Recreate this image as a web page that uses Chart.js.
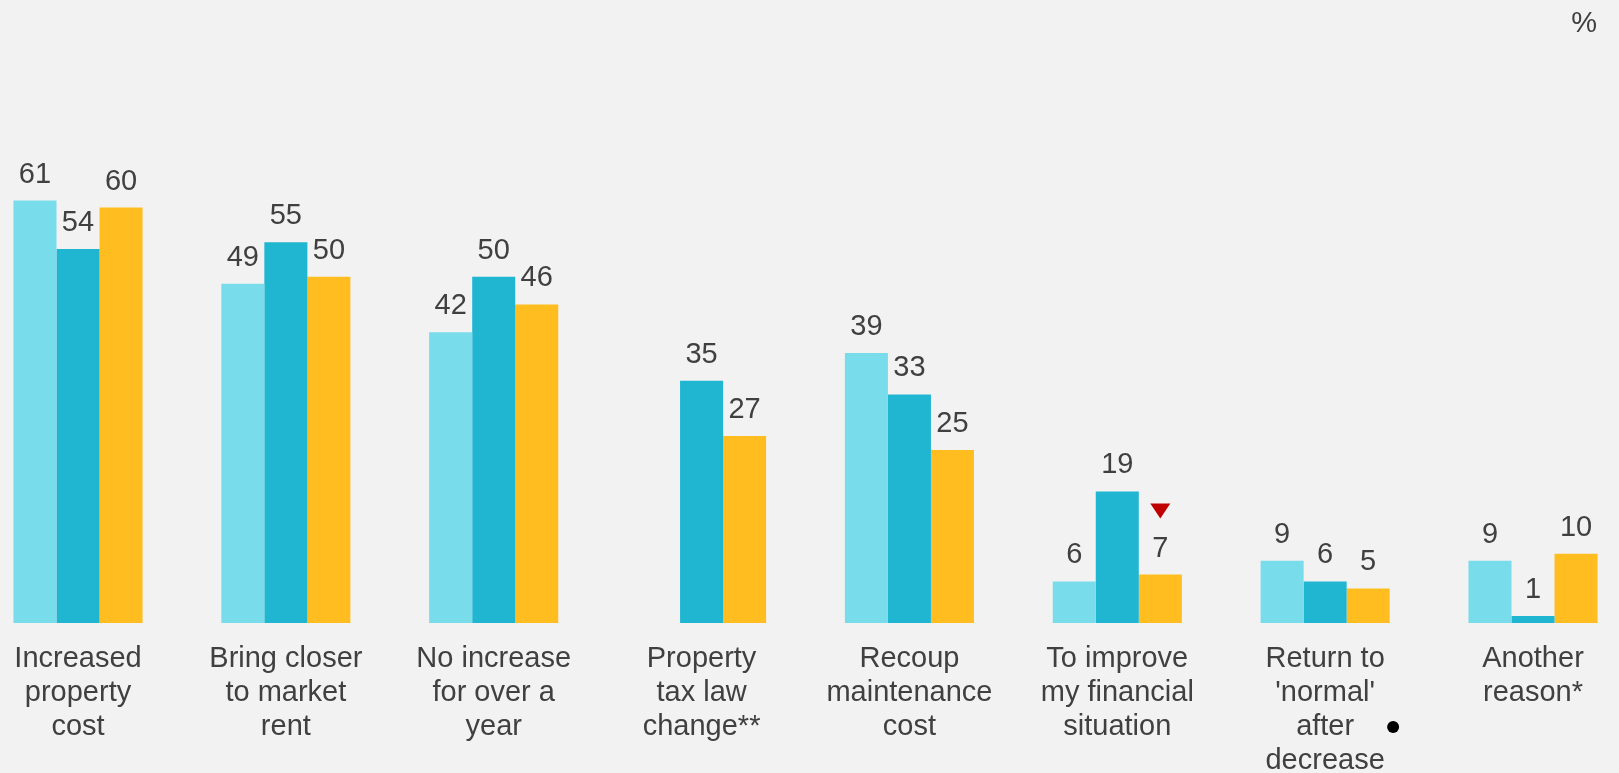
<!DOCTYPE html>
<html>
<head>
<meta charset="utf-8">
<script src="https://cdn.jsdelivr.net/npm/chart.js@4/dist/chart.umd.min.js"></script>
<style>
  html, body { margin: 0; padding: 0; background: #f2f2f2; }
  canvas { display: block; }
</style>
</head>
<body>
<canvas id="reasons" width="1619" height="773"></canvas>
<script>
const ctxReasons = document.getElementById('reasons').getContext('2d')

const labelsReasons = [
  ['Increased', 'property', 'cost'],
  ['Bring closer', 'to market', 'rent'],
  ['No increase', 'for over a', 'year'],
  ['Property', 'tax law', 'change**'],
  ['Recoup', 'maintenance', 'cost'],
  ['To improve', 'my financial', 'situation'],
  ['Return to', "'normal'", 'after', 'decrease'],
  ['Another', 'reason*'],
]
const valuesFirst = [61, 49, 42, null, 39, 6, 9, 9]
const valuesSecond = [54, 55, 50, 35, 33, 19, 6, 1]
const valuesThird = [60, 50, 46, 27, 25, 7, 5, 10]

// significant drop marker (category index, dataset index)
const dropMarks = [{ index: 5, dataset: 2 }]
// categories with a note dot beside the label
const noteDots = [6]

const FONT = '"Liberation Sans", Arial, sans-serif'
const TEXT = '#404040'

// value labels, drop triangle, note dot and unit sign
const annotate = {
  id: 'annotate',
  afterDatasetsDraw(chart) {
    const { ctx } = chart
    ctx.save()
    ctx.font = '29px ' + FONT
    ctx.fillStyle = TEXT
    ctx.textAlign = 'center'
    ctx.textBaseline = 'alphabetic'
    chart.data.datasets.forEach((ds, di) => {
      chart.getDatasetMeta(di).data.forEach((bar, i) => {
        if (ds.data[i] == null) return
        ctx.fillText(String(ds.data[i]), bar.x, bar.y - 18)
      })
    })

    dropMarks.forEach(m => {
      const bar = chart.getDatasetMeta(m.dataset).data[m.index]
      const top = bar.y - 71
      ctx.fillStyle = '#c00000'
      ctx.beginPath()
      ctx.moveTo(bar.x - 10, top)
      ctx.lineTo(bar.x + 10, top)
      ctx.lineTo(bar.x, top + 15)
      ctx.closePath()
      ctx.fill()
    })

    const xScale = chart.scales.x
    noteDots.forEach(i => {
      const x = xScale.getPixelForValue(i) + 68
      const y = xScale.top + 19 + 34 * 2.5
      ctx.fillStyle = '#000000'
      ctx.beginPath()
      ctx.arc(x, y, 6, 0, Math.PI * 2)
      ctx.fill()
    })

    ctx.fillStyle = TEXT
    ctx.textAlign = 'right'
    ctx.fillText('%', 1597, 32)
    ctx.restore()
  },
}

const dataReasons = {
  labels: labelsReasons,
  datasets: [
    { label: 'Series 1', data: valuesFirst, backgroundColor: '#78dcea' },
    { label: 'Series 2', data: valuesSecond, backgroundColor: '#20b5d1' },
    { label: 'Series 3', data: valuesThird, backgroundColor: '#ffbd1f' },
  ],
}

const configReasons = {
  type: 'bar',
  data: dataReasons,
  plugins: [annotate],
  options: {
    responsive: false,
    animation: false,
    layout: {
      padding: { left: 78, right: 86, top: 69, bottom: 0 },
    },
    datasets: {
      bar: {
        barPercentage: 1,
        categoryPercentage: 0.621,
        clip: false,
      },
    },
    plugins: {
      legend: { display: false },
      tooltip: { enabled: false },
    },
    scales: {
      x: {
        offset: false,
        grid: { display: false, drawTicks: false },
        border: { display: false },
        ticks: {
          autoSkip: false,
          maxRotation: 0,
          minRotation: 0,
          padding: 19,
          color: TEXT,
          font: { family: FONT, size: 29, lineHeight: 34 / 29 },
        },
        afterFit: scale => {
          // fixed label band; side padding comes from layout only
          scale.height = 150
          scale.paddingLeft = 0
          scale.paddingRight = 0
        },
      },
      y: {
        display: false,
        min: 0,
        max: 80,
      },
    },
  },
}
const reasonsChart = new Chart(ctxReasons, configReasons)
</script>
</body>
</html>
